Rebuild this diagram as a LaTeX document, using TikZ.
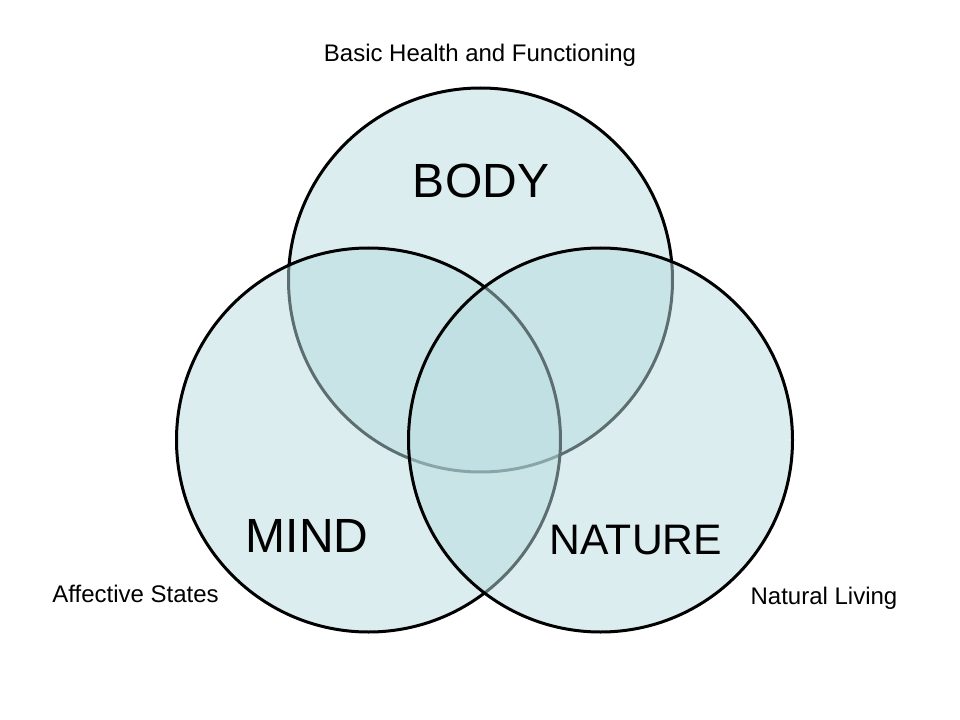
\documentclass[tikz,border=0pt]{standalone}
\usepackage{fontspec}
\setmainfont{Liberation Sans}
\definecolor{venncol}{RGB}{185,221,225}
\begin{document}
\begin{tikzpicture}[x=0.75pt,y=-0.75pt,
  venn/.style={circle, draw=black, line width=2.25pt, fill=venncol, fill opacity=0.5, text opacity=1, minimum size=288pt, inner sep=0pt},
  big/.style={font=\fontsize{36}{40}\selectfont, inner sep=0pt, anchor=base},
  bigb/.style={font=\fontsize{32}{36}\selectfont, inner sep=0pt, anchor=base},
  small/.style={font=\fontsize{18}{22}\selectfont, inner sep=0pt, anchor=base}]
\useasboundingbox[fill=white] (0,0) rectangle (960,720);
\node[venn] (body) at (480.5,280) {};
\node[venn] (mind) at (368.5,440) {};
\node[venn] (nature) at (600.5,440) {};
\node[big] (bodylbl) at (481,198) {BODY};
\node[big] (mindlbl) at (307,552) {MIND};
\node[bigb] (naturelbl) at (636,554) {NATURE};
\node[small] (health) at (480,61.5) {Basic Health and Functioning};
\node[small] (affect) at (135.5,602.5) {Affective States};
\node[small] (natural) at (824,604) {Natural Living};
\end{tikzpicture}
\end{document}
